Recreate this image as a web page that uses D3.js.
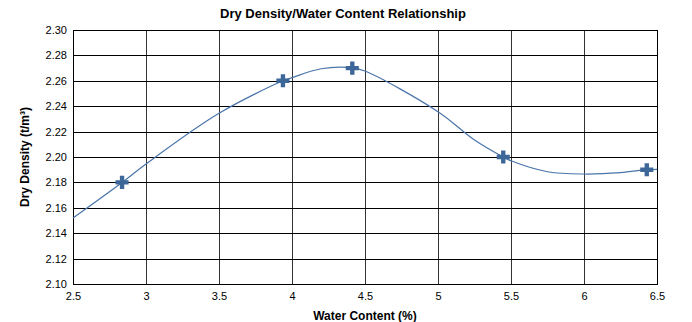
<!DOCTYPE html>
<html><head><meta charset="utf-8">
<script src="https://cdn.jsdelivr.net/npm/d3@7"></script>
<style>body{margin:0;background:#fff}svg{display:block}text{font-family:"Liberation Sans",Arial,sans-serif}</style>
</head><body><svg id="c" width="692" height="322"></svg>
<script>
const title = "Dry Density/Water Content Relationship";
const xLabel = "Water Content (%)";
const yLabel = "Dry Density (t/m³)";
const waterContent = [2.836, 3.938, 4.413, 5.447, 6.43];
const dryDensity = [2.18, 2.26, 2.27, 2.20, 2.19];
// fitted curve
const curveX = [2.5, 2.836, 3.0, 3.5, 3.938, 4.0, 4.2, 4.413, 4.5, 5.0, 5.25, 5.447, 5.5, 5.75, 6.0, 6.25, 6.43, 6.5];
const curveY = [2.152, 2.18, 2.1945, 2.2344, 2.26, 2.2625, 2.2695, 2.2702, 2.2677, 2.2357, 2.2134, 2.20, 2.197, 2.1884, 2.1866, 2.1877, 2.19, 2.1903];
const xTicks = [2.5, 3, 3.5, 4, 4.5, 5, 5.5, 6, 6.5];
const yTicks = [2.10, 2.12, 2.14, 2.16, 2.18, 2.20, 2.22, 2.24, 2.26, 2.28, 2.30];

const svg = d3.select("#c");
const L = 73, R = 657, T = 30, B = 284;
const x = d3.scaleLinear().domain([2.5, 6.5]).range([L, R]);
const y = d3.scaleLinear().domain([2.10, 2.30]).range([B, T]);

// gridlines
svg.append("g").selectAll("line").data(xTicks).join("line")
  .attr("x1", d => Math.round(x(d)) + 0.5).attr("x2", d => Math.round(x(d)) + 0.5)
  .attr("y1", T).attr("y2", B).attr("stroke", "#333").attr("stroke-width", 1);
svg.append("g").selectAll("line").data(yTicks).join("line")
  .attr("y1", d => Math.round(y(d)) + 0.5).attr("y2", d => Math.round(y(d)) + 0.5)
  .attr("x1", L).attr("x2", R).attr("stroke", "#000").attr("stroke-width", 1);
svg.append("rect").attr("x", L + 0.5).attr("y", T + 0.5).attr("width", R - L).attr("height", B - T)
  .attr("fill", "none").attr("stroke", "#000");

// axes labels
const xAxis = d3.axisBottom(x).tickValues(xTicks).tickSize(0).tickPadding(8).tickFormat(d3.format("~g"));
const gx = svg.append("g").attr("transform", `translate(0,${B})`).call(xAxis);
gx.select(".domain").remove();
gx.selectAll("text").attr("font-size", 11).attr("fill", "#000").attr("font-family", '"Liberation Sans",Arial,sans-serif');
const yAxis = d3.axisLeft(y).tickValues(yTicks).tickSize(0).tickPadding(6).tickFormat(d3.format(".2f"));
const gy = svg.append("g").attr("transform", `translate(${L},0)`).call(yAxis);
gy.select(".domain").remove();
gy.selectAll("text").attr("font-size", 11).attr("fill", "#000").attr("font-family", '"Liberation Sans",Arial,sans-serif');

// curve
const pts = curveX.map((v, i) => [v, curveY[i]]);
svg.append("path").datum(pts)
  .attr("d", d3.line().x(d => x(d[0])).y(d => y(d[1])).curve(d3.curveCatmullRom.alpha(0.5)))
  .attr("fill", "none").attr("stroke", "#4a74aa").attr("stroke-width", 1.2);

// markers
const sym = d3.symbol().type(d3.symbolCross).size(95);
svg.append("g").selectAll("path").data(waterContent).join("path")
  .attr("transform", (d, i) => `translate(${x(d)},${y(dryDensity[i])})`)
  .attr("d", sym).attr("fill", "#3d6699");

// titles
svg.append("text").attr("x", 343).attr("y", 18).attr("text-anchor", "middle")
  .attr("font-size", 13).attr("font-weight", "bold").attr("fill", "#000").text(title);
svg.append("text").attr("x", 365).attr("y", 320).attr("text-anchor", "middle")
  .attr("font-size", 12).attr("font-weight", "bold").attr("fill", "#000").text(xLabel);
svg.append("text").attr("transform", "translate(29,157) rotate(-90)").attr("text-anchor", "middle")
  .attr("font-size", 12).attr("font-weight", "bold").attr("fill", "#000").text(yLabel);
</script></body></html>
